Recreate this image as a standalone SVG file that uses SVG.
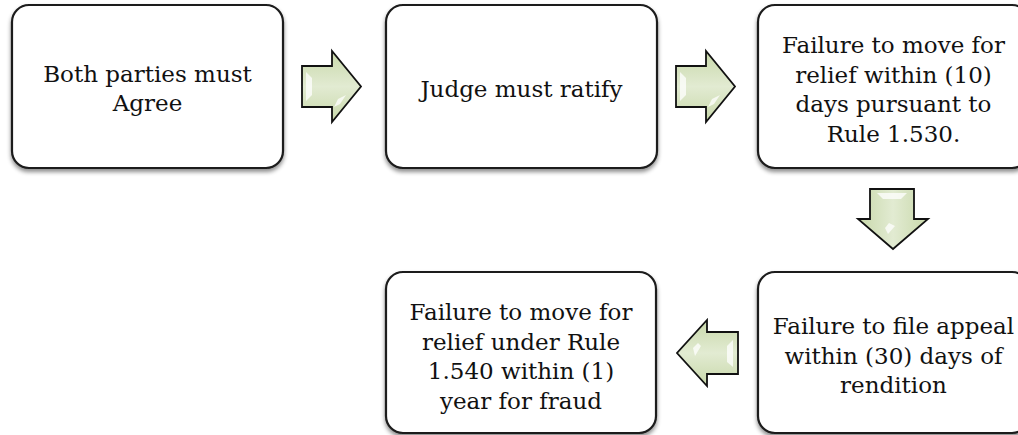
<svg xmlns="http://www.w3.org/2000/svg" width="1018" height="435" viewBox="0 0 1018 435">
  <defs>
    <filter id="shadow" x="-10%" y="-10%" width="120%" height="125%">
      <feDropShadow dx="0" dy="3" stdDeviation="2" flood-color="#000" flood-opacity="0.45"/>
    </filter>
    <linearGradient id="gH" x1="0" y1="0" x2="0" y2="1">
      <stop offset="0" stop-color="#c8d8aa"/>
      <stop offset="0.5" stop-color="#e2ebd2"/>
      <stop offset="1" stop-color="#c8d8aa"/>
    </linearGradient>
    <linearGradient id="gV" x1="0" y1="0" x2="1" y2="0">
      <stop offset="0" stop-color="#c8d8aa"/>
      <stop offset="0.5" stop-color="#e2ebd2"/>
      <stop offset="1" stop-color="#c8d8aa"/>
    </linearGradient>
    <style>
      .box { fill: #ffffff; stroke: #1c1c1c; stroke-width: 2.2; filter: url(#shadow); }
      .lbl { font-family: "DejaVu Serif", "Liberation Serif", serif; font-size: 23px; fill: #111; text-anchor: middle; }
      .arr { stroke: #111; stroke-width: 1.8; stroke-linejoin: miter; }
      .hl { fill: #ffffff; opacity: 0.75; }
    </style>
  </defs>

  <!-- process steps -->
  <g id="node-agree">
    <rect class="box" x="12" y="5" width="271" height="163" rx="17"/>
    <text class="lbl" x="147.5" y="82">Both parties must</text>
    <text class="lbl" x="147.5" y="111">Agree</text>
  </g>
  <g id="node-ratify">
    <rect class="box" x="386" y="5" width="271" height="163" rx="17"/>
    <text class="lbl" x="521.5" y="97">Judge must ratify</text>
  </g>
  <g id="node-relief-10">
    <rect class="box" x="758" y="5" width="271" height="163" rx="17"/>
    <text class="lbl" x="893.5" y="53">Failure to move for</text>
    <text class="lbl" x="893.5" y="82.5">relief within (10)</text>
    <text class="lbl" x="893.5" y="112">days pursuant to</text>
    <text class="lbl" x="893.5" y="141.5">Rule 1.530.</text>
  </g>
  <g id="node-appeal">
    <rect class="box" x="758" y="272" width="271" height="161" rx="17"/>
    <text class="lbl" x="893.5" y="334">Failure to file appeal</text>
    <text class="lbl" x="893.5" y="363.5">within (30) days of</text>
    <text class="lbl" x="893.5" y="393">rendition</text>
  </g>
  <g id="node-fraud">
    <rect class="box" x="386" y="272" width="270" height="161" rx="17"/>
    <text class="lbl" x="521" y="320">Failure to move for</text>
    <text class="lbl" x="521" y="349.5">relief under Rule</text>
    <text class="lbl" x="521" y="379">1.540 within (1)</text>
    <text class="lbl" x="521" y="408.5">year for fraud</text>
  </g>

  <!-- block arrows between steps -->
  <g id="connectors">
    <g id="arrow-1">
      <path class="arr" fill="url(#gH)" d="M302,66 H332 V51 L361,86.5 L332,122 V107 H302 Z"/>
      <path class="hl" d="M306,72 L312,78 V95 L306,101 Z"/>
      <path class="hl" d="M346,95 L340,104 L334,107 L338,99 Z"/>
    </g>
    <g id="arrow-2">
      <path class="arr" fill="url(#gH)" d="M676,66 H706 V51 L735,86.5 L706,122 V107 H676 Z"/>
      <path class="hl" d="M680,72 L686,78 V95 L680,101 Z"/>
      <path class="hl" d="M720,95 L714,104 L708,107 L712,99 Z"/>
    </g>
    <g id="arrow-3">
      <path class="arr" fill="url(#gV)" d="M870,189 H914 V219 H928 L893,249 L858,219 H870 Z"/>
      <path class="hl" d="M877,193 H907 L901,199 H883 Z"/>
      <path class="hl" d="M885,228 L889,223 L895,226 L888,234 Z"/>
    </g>
    <g id="arrow-4">
      <path class="arr" fill="url(#gH)" d="M738,332 H707 V320 L677,353 L707,386 V374 H738 Z"/>
      <path class="hl" d="M733,340 L727,346 V362 L733,367 Z"/>
      <path class="hl" d="M693,348 L698,343 L701,346 L695,356 Z"/>
    </g>
  </g>
</svg>
